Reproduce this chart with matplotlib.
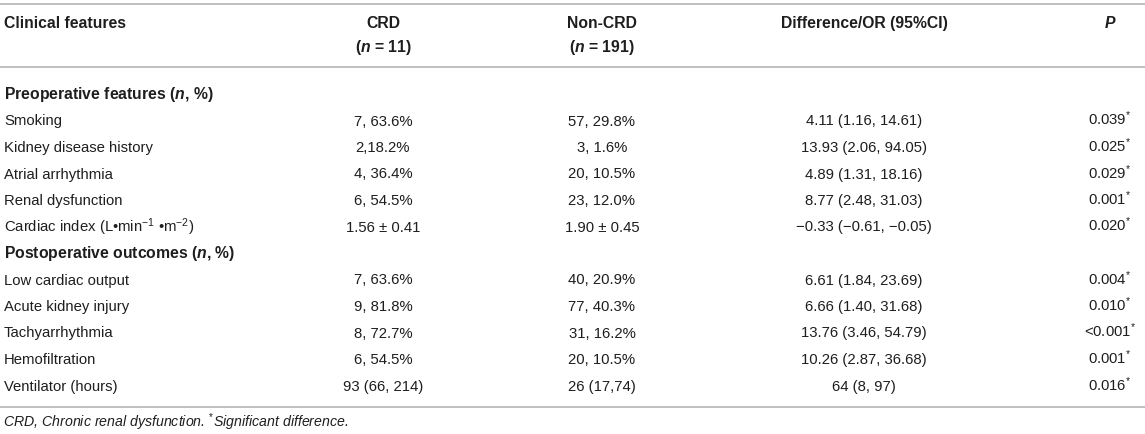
import matplotlib
matplotlib.use("Agg")
import matplotlib.pyplot as plt

plt.rcParams['font.family'] = ['Liberation Sans', 'DejaVu Sans']
plt.rcParams['mathtext.fontset'] = 'custom'
plt.rcParams['mathtext.rm'] = 'Liberation Sans'
plt.rcParams['mathtext.it'] = 'Liberation Sans:italic:bold'

# table contents
col_headers = ["Clinical features", "CRD", "Non-CRD", "Difference/OR (95%CI)", "$P$"]
group_sizes = ["", "($n$ = 11)", "($n$ = 191)", "", ""]

pre_title = "Preoperative features ($n$, %)"
pre_features = ["Smoking", "Kidney disease history", "Atrial arrhythmia",
                "Renal dysfunction", "Cardiac index (L\u2022min$^{-1}$ \u2022m$^{-2}$)"]
pre_crd = ["7, 63.6%", "2,18.2%", "4, 36.4%", "6, 54.5%", "1.56 \u00b1 0.41"]
pre_noncrd = ["57, 29.8%", "3, 1.6%", "20, 10.5%", "23, 12.0%", "1.90 \u00b1 0.45"]
pre_diff = ["4.11 (1.16, 14.61)", "13.93 (2.06, 94.05)", "4.89 (1.31, 18.16)",
            "8.77 (2.48, 31.03)", "\u22120.33 (\u22120.61, \u22120.05)"]
pre_p = ["0.039", "0.025", "0.029", "0.001", "0.020"]

post_title = "Postoperative outcomes ($n$, %)"
post_features = ["Low cardiac output", "Acute kidney injury", "Tachyarrhythmia",
                 "Hemofiltration", "Ventilator (hours)"]
post_crd = ["7, 63.6%", "9, 81.8%", "8, 72.7%", "6, 54.5%", "93 (66, 214)"]
post_noncrd = ["40, 20.9%", "77, 40.3%", "31, 16.2%", "20, 10.5%", "26 (17,74)"]
post_diff = ["6.61 (1.84, 23.69)", "6.66 (1.40, 31.68)", "13.76 (3.46, 54.79)",
             "10.26 (2.87, 36.68)", "64 (8, 97)"]
post_p = ["0.004", "0.010", "<0.001", "0.001", "0.016"]

footnote = "CRD, Chronic renal dysfunction. $^{*}$Significant difference."

W, H = 1145, 434
fig = plt.figure(figsize=(W / 100, H / 100), dpi=100)
ax = fig.add_axes([0, 0, 1, 1])
ax.set_xlim(0, W)
ax.set_ylim(H, 0)
ax.axis('off')

txt = '#1e1e1e'
fs = 10.7
fs_bold = 11.3
base = 5  # row centre -> text baseline
col_x = [4, 383, 602, 864, 1110]
col_ha = ['left', 'center', 'center', 'center', 'center']

line_kw = dict(color='#b4b4b4', lw=1.2)
for yl in (4, 67, 407):
    ax.plot([0, W], [yl, yl], **line_kw)

for x, ha, h, s in zip(col_x, col_ha, col_headers, group_sizes):
    ax.text(x, 23 + base, h, ha=ha, va='baseline', fontsize=fs_bold,
            fontweight='bold', color=txt)
    if s:
        ax.text(x, 47 + base, s, ha=ha, va='baseline', fontsize=fs_bold,
                fontweight='bold', color=txt)

step = 26.5
y = 94
for title, feats, c1, c2, c3, c4 in [
        (pre_title, pre_features, pre_crd, pre_noncrd, pre_diff, pre_p),
        (post_title, post_features, post_crd, post_noncrd, post_diff, post_p)]:
    ax.text(col_x[0], y + base, title, ha='left', va='baseline', fontsize=fs_bold,
            fontweight='bold', color=txt)
    y += step
    for feat, a, b, d, p in zip(feats, c1, c2, c3, c4):
        vals = [feat, a, b, d, p + "$^{*}$"]
        for x, ha, val in zip(col_x, col_ha, vals):
            ax.text(x, y + base, val, ha=ha, va='baseline', fontsize=fs, color=txt)
        y += step

ax.text(3, 422 + base, footnote, ha='left', va='baseline', fontsize=fs - 0.5,
        style='italic', color=txt)

fig.savefig('out.png', dpi=100)
